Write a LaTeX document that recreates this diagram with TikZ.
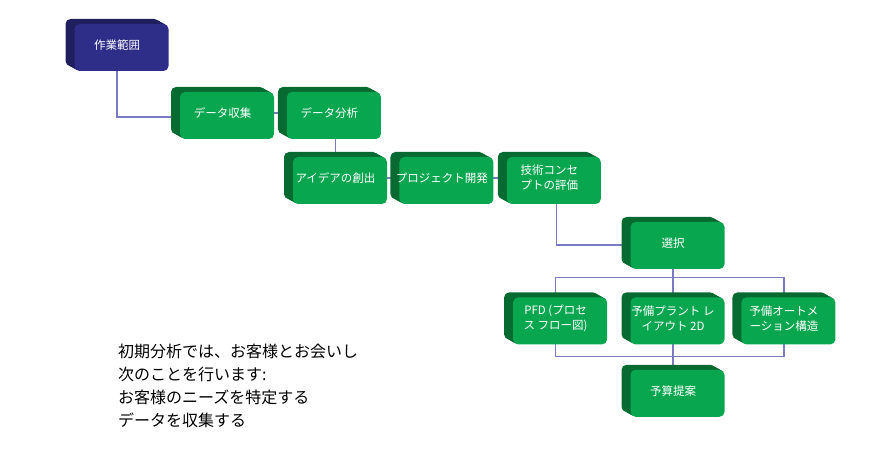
\documentclass[tikz,border=0pt]{standalone}
\usepackage{fontspec}
\setmainfont{Noto Sans CJK JP}
\usetikzlibrary{positioning}
\pgfdeclarelayer{background}
\pgfsetlayers{background,main}
\definecolor{navyface}{RGB}{46,45,135}
\definecolor{navyside}{RGB}{31,31,94}
\definecolor{greenface}{RGB}{9,166,80}
\definecolor{greenside}{RGB}{7,106,49}
\definecolor{linkcol}{RGB}{122,122,192}

\begin{document}
\begin{tikzpicture}[x=1pt, y=-1pt,
  box/.style 2 args={minimum width=94pt, minimum height=47pt, inner sep=1pt,
              rounded corners=5pt, align=center, text=white,
              font=\fontsize{11.5}{15}\selectfont,
              preaction={fill=#2, transform canvas={shift={(-4.5pt,2.5pt)}}},
              preaction={fill=#2, transform canvas={shift={(-3pt,1.7pt)}}},
              preaction={fill=#2, transform canvas={shift={(-1.5pt,0.8pt)}}},
              preaction={fill=#2},
              preaction={fill=#2, transform canvas={shift={(1.5pt,-0.8pt)}}},
              preaction={fill=#2, transform canvas={shift={(3pt,-1.7pt)}}},
              preaction={fill=#1, transform canvas={shift={(4.5pt,-2.5pt)}}}},
  headbox/.style={box={navyface}{navyside}},
  taskbox/.style={box={greenface}{greenside}},
  note/.style={align=left, inner sep=0pt, font=\fontsize{16}{23}\selectfont},
  link/.style={draw=linkcol, line width=1.3pt}]
  \useasboundingbox (0,0) rectangle (879,465);
  \node[headbox] (scope) at (117,45) {作業範囲};
  \node[taskbox] (collect) at (222.5,113) {データ収集};
  \node[taskbox, right=12.5pt of collect] (analyze) {データ分析};
  \node[taskbox] (idea) at (335.5,178) {アイデアの創出};
  \node[taskbox, right=12pt of idea] (project) {プロジェクト開発};
  \node[taskbox, right=13pt of project] (evaluate) {技術コンセ\\プトの評価};
  \node[taskbox] (select) at (673,243) {選択};
  \node[taskbox, below=28pt of select] (layout) {予備プラント レ\\イアウト 2D};
  \node[taskbox, left=23pt of layout] (pfd) {PFD (プロセ\\ス フロー図)};
  \node[taskbox, right=16.5pt of layout] (automation) {予備オートメ\\ーション構造};
  \node[taskbox, below=25pt of layout] (budget) {予算提案};
  \node[note, anchor=north west] (summary) at (118,344)
       {初期分析では、お客様とお会いし\\次のことを行います:\\お客様のニーズを特定する\\データを収集する};
  \begin{pgfonlayer}{background}
    \draw[link] (scope.south) |- ([yshift=-4pt]collect.west);
    \draw[link] (collect.east) -- (analyze.west);
    \draw[link] (analyze.south -| idea.north) -- (idea.north);
    \draw[link] (idea.east) -- (project.west);
    \draw[link] (project.east) -- (evaluate.west);
    \draw[link] ([xshift=7.5pt]evaluate.south) |- ([yshift=-2pt]select.west);
    \draw[link] (select.south) -- ++(0,10.5) coordinate (topbus) -| (pfd.north);
    \draw[link] (topbus) -| (automation.north);
    \draw[link] (topbus) -- (layout.north);
    \draw[link] (pfd.south) -- ++(0,14.5) -| (automation.south);
    \draw[link] (layout.south) -- (budget.north);
  \end{pgfonlayer}
\end{tikzpicture}
\end{document}
